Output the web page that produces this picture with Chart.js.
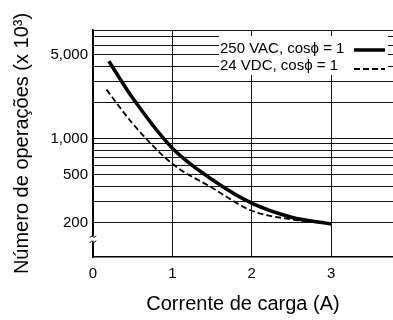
<!DOCTYPE html>
<html>
<head>
<meta charset="utf-8">
<script src="https://cdn.jsdelivr.net/npm/chart.js@4.4.0/dist/chart.umd.min.js"></script>
<style>
  html, body { margin: 0; padding: 0; background: #fff; }
  #wrap { width: 393px; height: 320px; position: relative; }
</style>
</head>
<body>
<div id="wrap"><canvas id="lifeChart"></canvas></div>
<script>
// Curve data (current in A, operations x 10^3)
const vacCurrent = [0.2, 0.5, 1, 1.5, 2, 2.5, 3];
const vacOps = [4400, 2170, 830, 455, 289, 221, 194];
const dcCurrent = [0.17, 0.5, 1, 1.5, 2, 2.5, 3];
const dcOps = [2550, 1330, 615, 389, 250, 212, 194];

const seriesLabels = ['250 VAC, cos\u03D5 = 1', '24 VDC, cos\u03D5 = 1'];
const xTicks = [0, 1, 2, 3];
const yGrid = [200, 300, 400, 500, 600, 700, 800, 900, 1000, 2000, 3000, 4000, 5000, 6000, 7000, 8000];
const yLabelled = { 200: '200', 500: '500', 1000: '1,000', 5000: '5,000' };

function toPoints(xs, ys) {
  return xs.map((x, i) => ({ x: x, y: ys[i] }));
}

// legend drawn inside the plot, text left of the line sample, on a white box
const insideLegend = {
  id: 'insideLegend',
  afterDraw(chart) {
    const ctx = chart.ctx;
    const area = chart.chartArea;
    const boxL = area.left + 126, boxT = area.top + 6;
    ctx.save();
    ctx.fillStyle = '#fff';
    ctx.fillRect(boxL, boxT, 169, 39);
    ctx.font = '15px "Liberation Sans", Arial, sans-serif';
    ctx.fillStyle = '#000';
    ctx.textBaseline = 'middle';
    chart.data.datasets.forEach((ds, i) => {
      const y = boxT + 13 + i * 17;
      ctx.fillText(ds.label, boxL + 1, y);
      ctx.beginPath();
      ctx.lineWidth = ds.borderWidth;
      ctx.setLineDash(ds.borderDash || []);
      ctx.strokeStyle = ds.borderColor;
      ctx.moveTo(boxL + 135, y + 1 + i * 2);
      ctx.lineTo(boxL + 166, y + 1 + i * 2);
      ctx.stroke();
    });
    ctx.restore();
  }
};

// small break mark on the y axis below 200
const axisBreak = {
  id: 'axisBreak',
  afterDraw(chart) {
    const ctx = chart.ctx;
    const x = chart.chartArea.left;
    const y = chart.scales.y.getPixelForValue(145);
    ctx.save();
    ctx.fillStyle = '#fff';
    ctx.fillRect(x - 2, y - 3, 4, 6);
    ctx.strokeStyle = '#000';
    ctx.lineWidth = 1;
    [-2.5, 2.5].forEach(d => {
      ctx.beginPath();
      ctx.moveTo(x - 3, y + d + 1);
      ctx.quadraticCurveTo(x - 1.5, y + d - 2, x, y + d);
      ctx.quadraticCurveTo(x + 1.5, y + d + 2, x + 3, y + d - 1);
      ctx.stroke();
    });
    ctx.restore();
  }
};

const ctx = document.getElementById('lifeChart').getContext('2d');
const lifeChart = new Chart(ctx, {
  type: 'line',
  data: {
    datasets: [{
      label: seriesLabels[0],
      data: toPoints(vacCurrent, vacOps),
      borderColor: '#000',
      borderWidth: 3.5,
      pointRadius: 0,
      cubicInterpolationMode: 'monotone',
      fill: false
    }, {
      label: seriesLabels[1],
      data: toPoints(dcCurrent, dcOps),
      borderColor: '#000',
      borderWidth: 1.8,
      borderDash: [6, 3],
      pointRadius: 0,
      cubicInterpolationMode: 'monotone',
      fill: false
    }]
  },
  options: {
    responsive: true,
    maintainAspectRatio: false,
    animation: false,
    layout: { padding: { top: 30, right: 0, left: 0, bottom: 0 } },
    plugins: {
      legend: { display: false },
      tooltip: { enabled: false }
    },
    scales: {
      x: {
        type: 'linear',
        min: 0,
        max: 3.78,
        afterBuildTicks: function(scale) {
          scale.ticks = xTicks.map(v => ({ value: v }));
        },
        afterFit: function(scale) { scale.height = 63; },
        grid: { color: '#111', lineWidth: 1, drawTicks: false },
        border: { color: '#000', width: 1.5 },
        ticks: {
          padding: 8,
          color: '#000',
          font: { family: '"Liberation Sans", Arial, sans-serif', size: 15 }
        },
        title: {
          display: true,
          text: 'Corrente de carga (A)',
          color: '#000',
          font: { family: '"Liberation Sans", Arial, sans-serif', size: 20 },
          padding: { top: 0, bottom: 4 }
        }
      },
      y: {
        type: 'logarithmic',
        min: 103,
        max: 8000,
        afterBuildTicks: function(scale) {
          scale.ticks = yGrid.map(v => ({ value: v }));
        },
        afterFit: function(scale) { scale.width = 93; },
        grid: { color: '#111', lineWidth: 1, drawTicks: false },
        border: { color: '#000', width: 1.5 },
        ticks: {
          padding: 5,
          color: '#000',
          autoSkip: false,
          font: { family: '"Liberation Sans", Arial, sans-serif', size: 15 },
          callback: function(value) {
            return yLabelled[value] || '';
          }
        },
        title: {
          display: true,
          text: 'N\u00FAmero de opera\u00E7\u00F5es (x 10\u00B3)',
          color: '#000',
          font: { family: '"Liberation Sans", Arial, sans-serif', size: 20 },
          padding: { top: 10, bottom: 0 }
        }
      }
    }
  },
  plugins: [insideLegend, axisBreak]
});
</script>
</body>
</html>
